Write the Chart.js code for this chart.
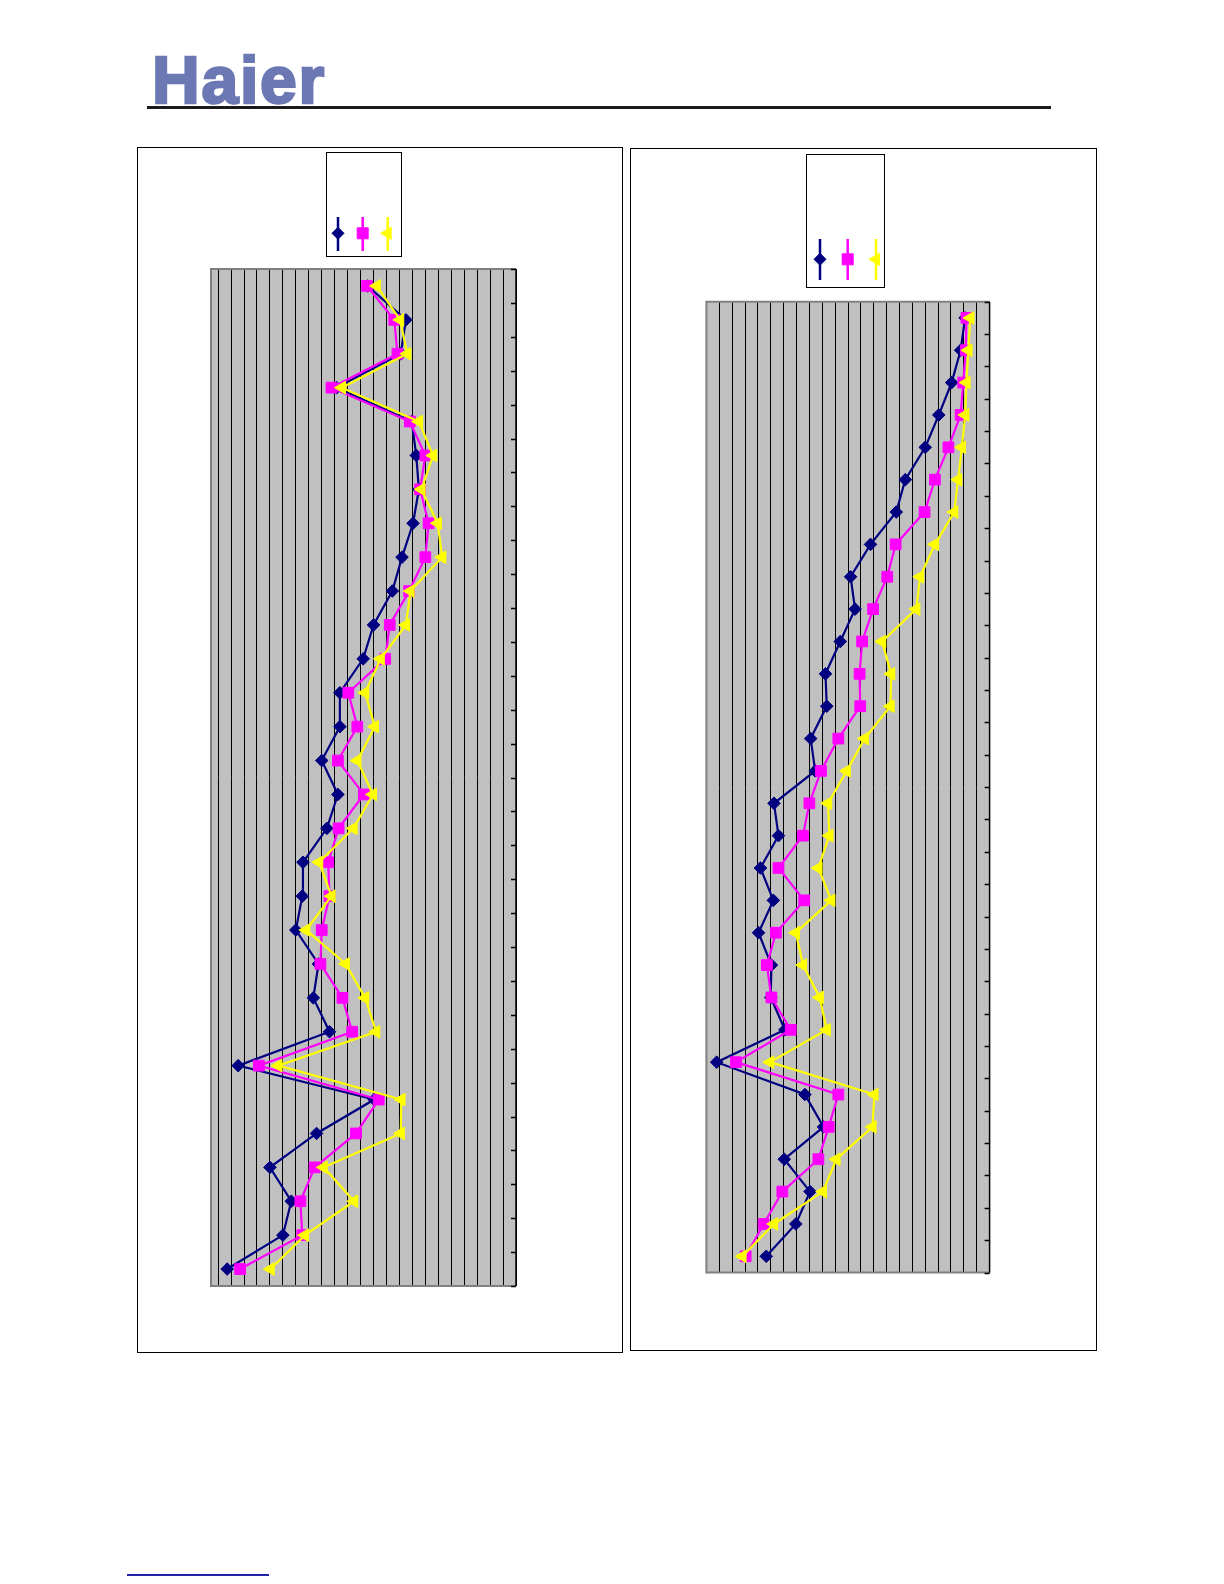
<!DOCTYPE html>
<html><head><meta charset="utf-8">
<script src="https://cdn.jsdelivr.net/npm/chart.js@4.4.1/dist/chart.umd.min.js"></script>
<style>
html,body{margin:0;padding:0;background:#fff;}
body{width:1224px;height:1584px;position:relative;overflow:hidden;font-family:"Liberation Sans",Arial,sans-serif;}
#logo{position:absolute;left:152px;top:47px;font-size:66px;line-height:66px;font-weight:bold;color:#6b78b4;letter-spacing:1.8px;-webkit-text-stroke:2.5px #6b78b4;}
#rule{position:absolute;left:147px;top:106px;width:904px;height:3px;background:#1a1a1a;}
#link{position:absolute;left:127px;top:1574px;width:142px;height:2px;background:#2323a8;}
.box{position:absolute;border:1px solid #000;box-sizing:border-box;}
canvas{position:absolute;}
</style></head><body>
<div id="logo">Haier</div>
<div id="rule"></div>
<div class="box" style="left:137px;top:147px;width:486px;height:1206px;"></div>
<div class="box" style="left:630px;top:148px;width:467px;height:1203px;"></div>
<canvas id="c1" width="484" height="1204" style="left:138px;top:148px;"></canvas>
<canvas id="c2" width="465" height="1201" style="left:631px;top:149px;"></canvas>
<div id="link"></div>
<script>
// Category bands (bottom = first band); no labels are printed in the reference
const bands = Array.from({length: 30}, (_, i) => String(i + 1));

// Left chart series (values, first band first)
const leftNavy = [54.6, 46.0, 44.7, 48.0, 40.8, 31.9, 52.9, 38.8, 41.3, 40.5, 44.0, 43.0, 42.9, 39.2, 37.5, 40.0, 37.2, 37.2, 33.6, 32.0, 29.1, 27.6, 25.9, 25.0, 25.4, 26.1, 37.7, 27.8, 27.0, 32.9];
const leftMagenta = [52.6, 43.0, 43.3, 41.1, 34.7, 31.2, 49.7, 35.3, 36.8, 40.2, 40.0, 38.8, 39.0, 37.4, 33.5, 37.5, 34.5, 35.9, 30.2, 29.5, 26.5, 24.0, 23.5, 24.8, 24.0, 26.4, 38.5, 28.3, 28.8, 33.0];
const leftYellow = [47.9, 42.6, 35.0, 39.7, 27.8, 27.7, 46.7, 31.6, 33.3, 36.3, 42.4, 38.5, 40.4, 35.1, 32.1, 34.5, 31.8, 33.3, 30.9, 27.0, 26.3, 21.4, 22.1, 24.6, 22.8, 25.0, 36.9, 26.8, 27.9, 31.5];

// Right chart series
const rightNavy = [44.7, 40.1, 37.9, 41.9, 35.8, 38.7, 52.4, 41.8, 44.0, 43.9, 45.9, 43.6, 45.6, 42.8, 43.5, 37.1, 37.8, 35.3, 35.5, 33.2, 30.9, 31.6, 28.5, 24.5, 23.1, 20.0, 17.9, 15.9, 14.5, 13.8];
const rightMagenta = [47.9, 45.1, 42.2, 36.6, 35.0, 33.5, 49.4, 40.9, 43.9, 44.6, 43.2, 38.8, 42.8, 39.0, 38.0, 36.2, 33.5, 30.1, 30.2, 29.8, 28.1, 25.9, 24.6, 20.1, 18.5, 16.4, 14.5, 14.1, 13.7, 13.6];
const rightYellow = [48.4, 43.5, 35.9, 33.8, 28.2, 27.9, 44.1, 35.3, 36.4, 39.0, 40.1, 34.6, 36.6, 34.9, 35.1, 32.2, 29.4, 25.4, 25.3, 26.7, 21.4, 20.8, 18.5, 15.5, 14.9, 14.3, 13.8, 13.6, 13.3, 13.0];

// Value-axis gridline values
const leftGrid = Array.from({length: 24}, (_, i) => 10 + 2 * i);   // 10..56
const rightGrid = Array.from({length: 23}, (_, i) => 10 + 2 * i);  // 10..54

const NAVY = '#000080', MAG = '#ff00ff', YEL = '#ffff00';

function drawMarker(ctx, style, x, y, r, color) {
  ctx.save();
  ctx.fillStyle = color; ctx.strokeStyle = color; ctx.lineWidth = 1;
  ctx.beginPath();
  if (style === 'diamond') {
    ctx.moveTo(x, y - r); ctx.lineTo(x + r, y); ctx.lineTo(x, y + r); ctx.lineTo(x - r, y); ctx.closePath();
  } else if (style === 'square') {
    ctx.rect(x - r, y - r, 2 * r, 2 * r);
  } else {
    ctx.moveTo(x - r, y); ctx.lineTo(x + r * 0.5, y - r * 0.87); ctx.lineTo(x + r * 0.5, y + r * 0.87); ctx.closePath();
  }
  ctx.fill(); ctx.stroke();
  ctx.restore();
}

const framePlugin = {
  id: 'frame',
  beforeDraw(chart) {
    const {ctx, chartArea: a} = chart;
    ctx.save();
    ctx.fillStyle = '#c0c0c0';
    ctx.fillRect(a.left, a.top, a.right - a.left, a.bottom - a.top);
    ctx.restore();
  },
  beforeDatasetsDraw(chart) {
    const {ctx, chartArea: a} = chart;
    const ys = chart.scales.y;
    const n = chart.data.labels.length;
    ctx.save();
    ctx.strokeStyle = '#808080'; ctx.lineWidth = 2;
    ctx.beginPath();
    ctx.moveTo(a.right, a.top); ctx.lineTo(a.left, a.top); ctx.lineTo(a.left, a.bottom); ctx.lineTo(a.right, a.bottom);
    ctx.stroke();
    ctx.strokeStyle = '#000'; ctx.lineWidth = 1.5;
    ctx.beginPath();
    ctx.moveTo(a.right, a.top); ctx.lineTo(a.right, a.bottom);
    for (let i = 0; i <= n; i++) {
      const py = Math.round(ys.getPixelForValue(i - 0.5)) + 0.5;
      ctx.moveTo(a.right - 5, py); ctx.lineTo(a.right, py);
    }
    ctx.stroke();
    ctx.restore();
  },
  afterDraw(chart, args, o) {
    const ctx = chart.ctx;
    ctx.save();
    ctx.fillStyle = '#fff';
    ctx.fillRect(o.box[0], o.box[1], o.box[2] - o.box[0], o.box[3] - o.box[1]);
    ctx.strokeStyle = '#000'; ctx.lineWidth = 1;
    ctx.strokeRect(Math.round(o.box[0]) + 0.5, Math.round(o.box[1]) + 0.5, Math.round(o.box[2] - o.box[0]), Math.round(o.box[3] - o.box[1]));
    const styles = ['diamond', 'square', 'triangle'];
    const sizes = [6, 5.5, 7];
    chart.data.datasets.forEach((ds, i) => {
      const x = o.xs[i];
      ctx.strokeStyle = ds.borderColor; ctx.lineWidth = 2.5;
      ctx.beginPath(); ctx.moveTo(x, o.lineTop); ctx.lineTo(x, o.lineBottom); ctx.stroke();
      drawMarker(ctx, styles[i], x, o.markerY, sizes[i], ds.borderColor);
    });
    ctx.restore();
  }
};

function makeChart(id, navy, mag, yel, maxV, gridVals, padding, legend) {
  return new Chart(document.getElementById(id), {
    type: 'line',
    data: {
      labels: bands,
      datasets: [
        {label: 'A', data: navy, borderColor: NAVY, backgroundColor: NAVY, borderWidth: 2.2,
         pointStyle: 'rectRot', pointRadius: 6.3, pointBorderWidth: 1, order: 3},
        {label: 'B', data: mag, borderColor: MAG, backgroundColor: MAG, borderWidth: 2.2,
         pointStyle: 'rect', pointRadius: 7.6, pointBorderWidth: 1, order: 2},
        {label: 'C', data: yel, borderColor: YEL, backgroundColor: YEL, borderWidth: 2.2,
         pointStyle: 'triangle', pointRotation: -90, pointRadius: 7.3, pointBorderWidth: 1, order: 1}
      ]
    },
    options: {
      indexAxis: 'y',
      responsive: false,
      animation: false,
      devicePixelRatio: 1,
      layout: {padding: padding, autoPadding: false},
      plugins: {legend: {display: false}, tooltip: {enabled: false}, frame: legend},
      elements: {line: {tension: 0}},
      scales: {
        x: {
          type: 'linear', reverse: true, min: 10, max: maxV,
          afterBuildTicks: (s) => { s.ticks = gridVals.map(v => ({value: v})); },
          ticks: {display: false},
          grid: {color: '#000', lineWidth: 1, drawTicks: false},
          border: {display: false}
        },
        y: {
          type: 'category', reverse: true, offset: true, display: false
        }
      }
    },
    plugins: [framePlugin]
  });
}

makeChart('c1', leftNavy, leftMagenta, leftYellow, 57.1, leftGrid,
  {left: 73, top: 121, right: 106, bottom: 66},
  {box: [188, 4, 263, 108], xs: [200, 224.7, 249.7], lineTop: 69, lineBottom: 103, markerY: 85.3});

makeChart('c2', rightNavy, rightMagenta, rightYellow, 54, rightGrid,
  {left: 75.4, top: 152.7, right: 106.4, bottom: 77.5},
  {box: [175, 5, 253, 138], xs: [189, 216.7, 245], lineTop: 90, lineBottom: 131, markerY: 110.3});
</script>
</body></html>
